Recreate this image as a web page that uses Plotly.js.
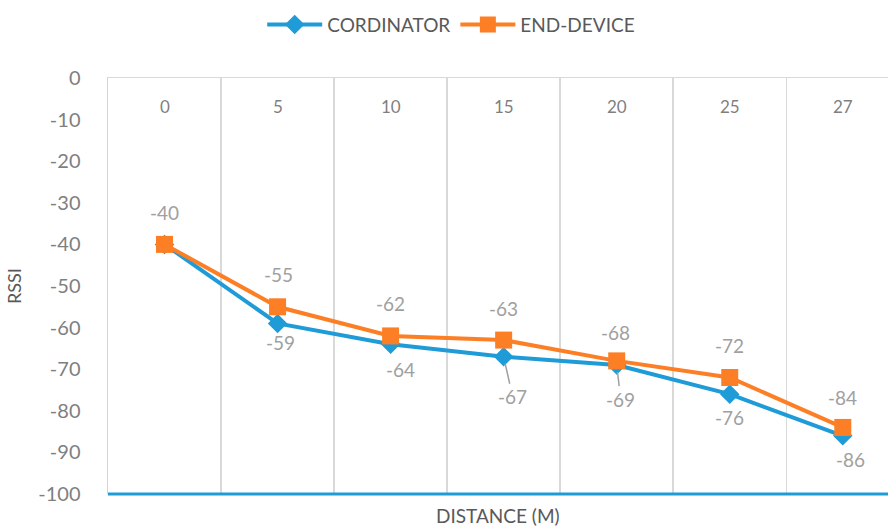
<!DOCTYPE html>
<html>
<head>
<meta charset="utf-8">
<script src="https://cdn.plot.ly/plotly-3.0.1.min.js"></script>
<style>html,body{margin:0;padding:0;overflow:hidden;background:#fff;}</style>
</head>
<body>
<div id="chart" style="width:888px;height:526px;"></div>
<script>
const distances = ['0', '5', '10', '15', '20', '25', '27'];
const coordinator = [-40, -59, -64, -67, -69, -76, -86];
const endDevice = [-40, -55, -62, -63, -68, -72, -84];
const seriesNames = ['CORDINATOR', 'END-DEVICE'];
const yTicks = [0, -10, -20, -30, -40, -50, -60, -70, -80, -90, -100];

const BLUE = '#1f9bd7';
const ORANGE = '#fd7f25';
const LABEL = '#a0a0a0';
const FONT = 'Lato, "Open Sans", sans-serif';

// label placement (pixel offsets from each point), style only
const coordShift = [[0, 0], [3, -19], [10, -25], [0, 0], [0, 0], [0, -23], [8, -24]];
const coordArrow = [null, null, null, [9, 40], [4, 34], null, null];
const endShift = [[0, 32], [1, 32], [0, 32], [0, 32], [-1, 28], [0, 32], [0, 30]];

const traces = [
  {
    x: distances, y: coordinator, name: seriesNames[0], type: 'scatter', mode: 'lines+markers',
    line: {color: BLUE, width: 4}, marker: {symbol: 'diamond', size: 15, color: BLUE},
    hoverinfo: 'x+y'
  },
  {
    x: distances, y: endDevice, name: seriesNames[1], type: 'scatter', mode: 'lines+markers',
    line: {color: ORANGE, width: 4}, marker: {symbol: 'square', size: 17, color: ORANGE},
    hoverinfo: 'x+y'
  }
];

const annotations = [];
const labelFont = {family: FONT, size: 19, color: LABEL};
distances.forEach((d, i) => {
  // category tick labels drawn inside the plot, below the top axis line
  annotations.push({
    x: i, y: 0, xref: 'x', yref: 'y', yshift: -28, text: d, showarrow: false,
    font: {family: FONT, size: 17, color: '#7f7f7f'}
  });
  // coordinator labels (first one is hidden behind the end-device label)
  if (i > 0) {
    if (coordArrow[i]) {
      annotations.push({
        x: i, y: coordinator[i], xref: 'x', yref: 'y', text: String(coordinator[i]),
        showarrow: true, arrowhead: 0, arrowwidth: 1.5, arrowcolor: LABEL,
        ax: coordArrow[i][0], ay: coordArrow[i][1], standoff: 7, font: labelFont
      });
    } else {
      annotations.push({
        x: i, y: coordinator[i], xref: 'x', yref: 'y', text: String(coordinator[i]),
        showarrow: false, xshift: coordShift[i][0], yshift: coordShift[i][1], font: labelFont
      });
    }
  }
  annotations.push({
    x: i, y: endDevice[i], xref: 'x', yref: 'y', text: String(endDevice[i]),
    showarrow: false, xshift: endShift[i][0], yshift: endShift[i][1], font: labelFont
  });
});
annotations.push({
  x: 0.5, y: -100, xref: 'paper', yref: 'y', yshift: -21, text: 'DISTANCE (M)', showarrow: false,
  font: {family: FONT, size: 19, color: '#595959'}
});

const layout = {
  width: 888, height: 526,
  margin: {l: 108, r: 0, t: 78, b: 32},
  paper_bgcolor: '#ffffff', plot_bgcolor: '#ffffff',
  showlegend: true,
  legend: {
    orientation: 'h', x: 0.44, xanchor: 'center', y: 1.128, yanchor: 'middle',
    font: {family: FONT, size: 19, color: '#595959'}, itemwidth: 55
  },
  xaxis: {
    type: 'category', side: 'top', range: [-0.5, 6.4],
    tickson: 'boundaries', ticks: '', showgrid: true, gridcolor: '#d9d9d9', gridwidth: 1.5,
    showline: true, linecolor: '#d9d9d9', linewidth: 1.5,
    showticklabels: false,
    zeroline: false, fixedrange: true
  },
  yaxis: {
    range: [-100, 0], tickvals: yTicks, ticktext: yTicks.map(String),
    showgrid: false, zeroline: false, showline: true, linecolor: '#bcdcf0', linewidth: 1.5,
    ticks: '', ticklabelstandoff: 22,
    tickfont: {family: FONT, size: 20, color: '#7f7f7f'},
    title: {text: 'RSSI', font: {family: FONT, size: 18, color: '#595959'}, standoff: 12},
    fixedrange: true
  },
  shapes: [{
    type: 'line', xref: 'paper', yref: 'paper', x0: 0, x1: 1, y0: 0, y1: 0,
    line: {color: BLUE, width: 3}
  }],
  annotations: annotations
};

Plotly.newPlot('chart', traces, layout, {displayModeBar: false, staticPlot: true});
</script>
</body>
</html>
